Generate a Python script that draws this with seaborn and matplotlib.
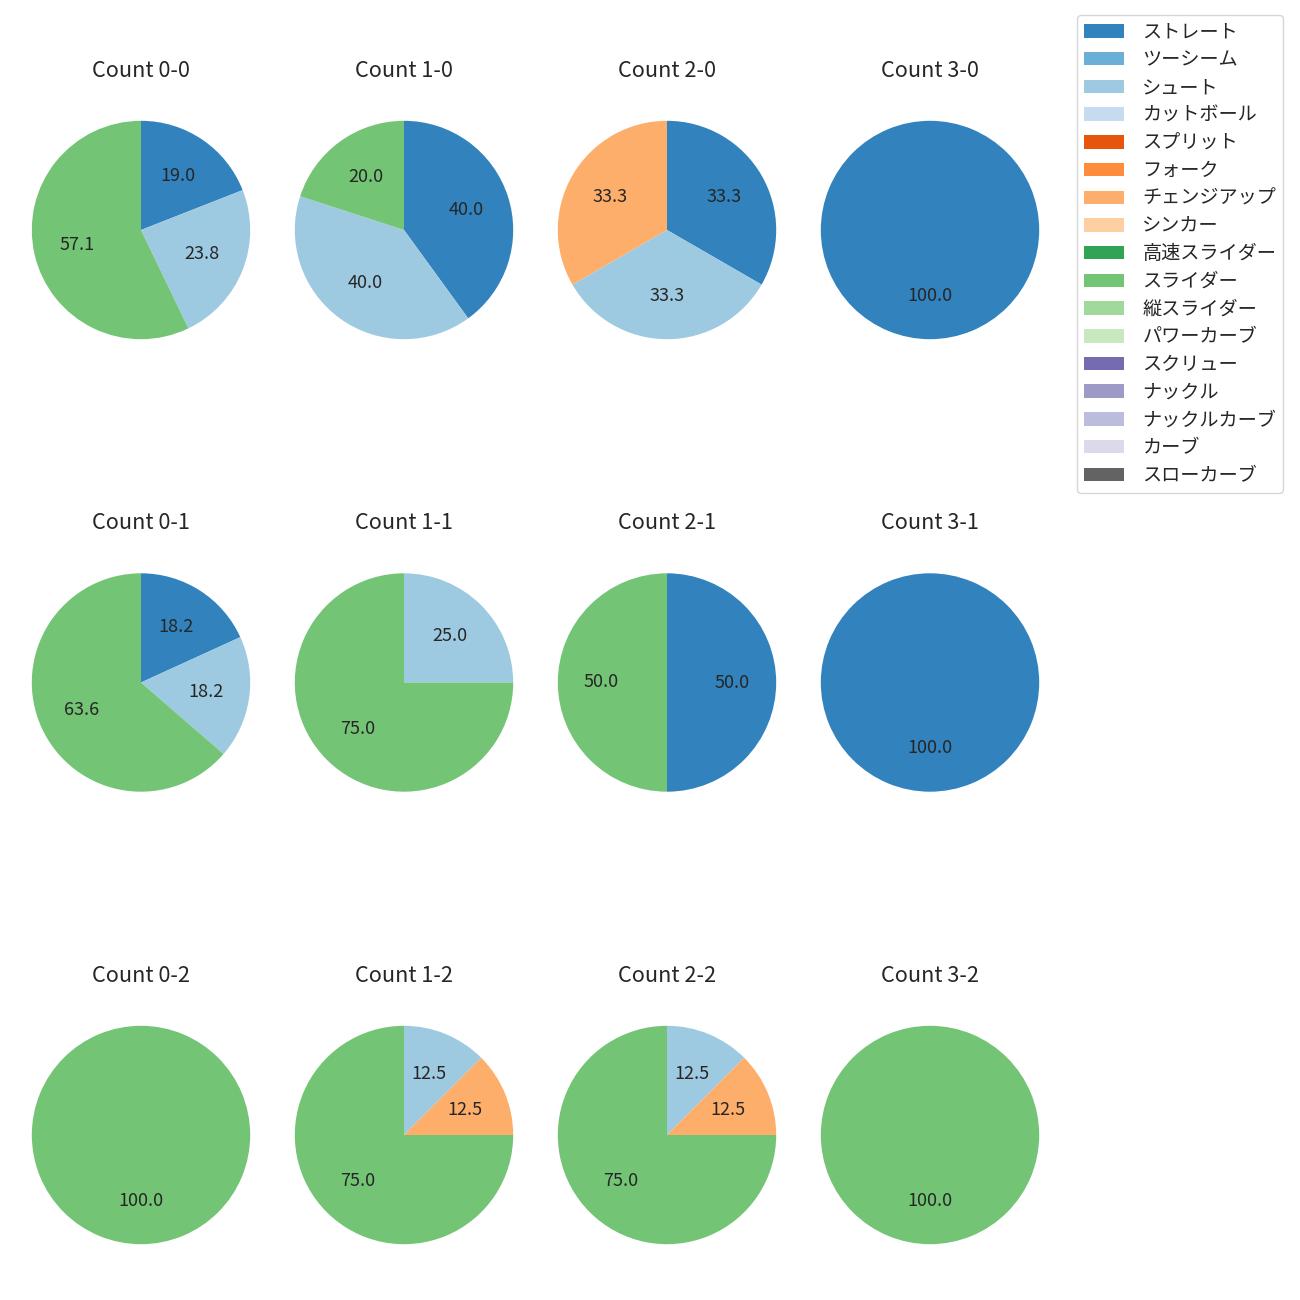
import matplotlib
matplotlib.use("Agg")
import matplotlib.pyplot as plt
import matplotlib.patches as mpatches
import seaborn as sns

pitch_types = ["ストレート", "ツーシーム", "シュート", "カットボール", "スプリット", "フォーク",
               "チェンジアップ", "シンカー", "高速スライダー", "スライダー", "縦スライダー",
               "パワーカーブ", "スクリュー", "ナックル", "ナックルカーブ", "カーブ", "スローカーブ"]

count_labels = ["0-0", "1-0", "2-0", "3-0",
                "0-1", "1-1", "2-1", "3-1",
                "0-2", "1-2", "2-2", "3-2"]

# pitch counts per ball-strike count, aligned with pitch_types
c_0_0 = [4, 0, 5, 0, 0, 0, 0, 0, 0, 12, 0, 0, 0, 0, 0, 0, 0]
c_1_0 = [2, 0, 2, 0, 0, 0, 0, 0, 0, 1, 0, 0, 0, 0, 0, 0, 0]
c_2_0 = [1, 0, 1, 0, 0, 0, 1, 0, 0, 0, 0, 0, 0, 0, 0, 0, 0]
c_3_0 = [1, 0, 0, 0, 0, 0, 0, 0, 0, 0, 0, 0, 0, 0, 0, 0, 0]
c_0_1 = [2, 0, 2, 0, 0, 0, 0, 0, 0, 7, 0, 0, 0, 0, 0, 0, 0]
c_1_1 = [0, 0, 1, 0, 0, 0, 0, 0, 0, 3, 0, 0, 0, 0, 0, 0, 0]
c_2_1 = [1, 0, 0, 0, 0, 0, 0, 0, 0, 1, 0, 0, 0, 0, 0, 0, 0]
c_3_1 = [1, 0, 0, 0, 0, 0, 0, 0, 0, 0, 0, 0, 0, 0, 0, 0, 0]
c_0_2 = [0, 0, 0, 0, 0, 0, 0, 0, 0, 1, 0, 0, 0, 0, 0, 0, 0]
c_1_2 = [0, 0, 1, 0, 0, 0, 1, 0, 0, 6, 0, 0, 0, 0, 0, 0, 0]
c_2_2 = [0, 0, 1, 0, 0, 0, 1, 0, 0, 6, 0, 0, 0, 0, 0, 0, 0]
c_3_2 = [0, 0, 0, 0, 0, 0, 0, 0, 0, 1, 0, 0, 0, 0, 0, 0, 0]

all_counts = [c_0_0, c_1_0, c_2_0, c_3_0,
              c_0_1, c_1_1, c_2_1, c_3_1,
              c_0_2, c_1_2, c_2_2, c_3_2]

sns.set_style("white")
plt.rcParams['font.family'] = ['Noto Sans CJK JP', 'DejaVu Sans']
plt.rcParams['font.size'] = 13

colors = sns.color_palette("tab20c", 20)[:len(pitch_types)]

fig, axes = plt.subplots(3, 4, figsize=(13, 13), dpi=100)
fig.subplots_adjust(left=4.5 / 1300, right=1066.5 / 1300, wspace=-0.0366,
                    top=1 - 93.5 / 1300, bottom=1 - 1271.5 / 1300, hspace=0.6575)

for ax, lab, vals in zip(axes.flat, count_labels, all_counts):
    sel = [(v, c) for v, c in zip(vals, colors) if v > 0]
    ax.pie([s[0] for s in sel], colors=[s[1] for s in sel],
           autopct="%.1f", startangle=90, counterclock=False,
           wedgeprops=dict(linewidth=0, edgecolor="none"))
    ax.set_title(f"Count {lab}", pad=12)
    ax.set_aspect("equal")

handles = [mpatches.Patch(facecolor=c, edgecolor="none", label=p) for p, c in zip(pitch_types, colors)]
fig.legend(handles=handles, loc="upper right", borderaxespad=0,
           bbox_to_anchor=(1283 / 1300, 1 - 15 / 1300),
           fontsize=13.8, labelspacing=0.35, handlelength=2.1, handletextpad=0.95,
           borderpad=0.35)

fig.savefig("out.png", dpi=100)
